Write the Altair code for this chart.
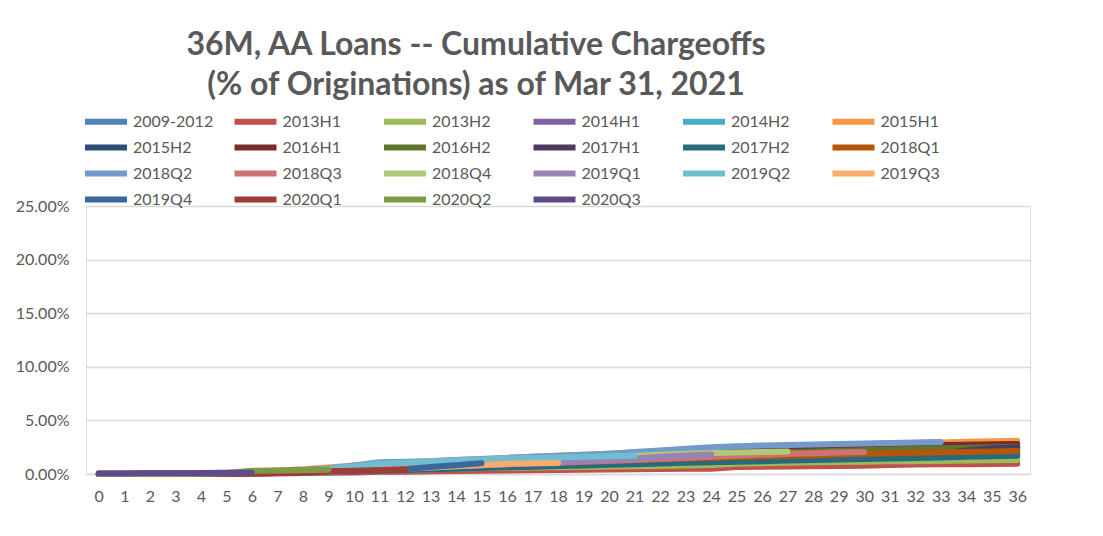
import altair as alt
import pandas as pd

title_lines = ["36M, AA Loans -- Cumulative Chargeoffs", "(% of Originations) as of Mar 31, 2021"]

series_names = ["2009-2012", "2013H1", "2013H2", "2014H1", "2014H2", "2015H1",
                "2015H2", "2016H1", "2016H2", "2017H1", "2017H2", "2018Q1",
                "2018Q2", "2018Q3", "2018Q4", "2019Q1", "2019Q2", "2019Q3",
                "2019Q4", "2020Q1", "2020Q2", "2020Q3"]

series_colors = ["#4F81BD", "#C0504D", "#9BBB59", "#8064A2", "#4BACC6", "#F79646",
                 "#2C4D75", "#772C2A", "#5F7530", "#4D3B62", "#276A7C", "#B65708",
                 "#729ACA", "#CD7371", "#AFC97A", "#9983B5", "#6FBDD1", "#F9AB6B",
                 "#3A679C", "#9C3D3A", "#7E9A45", "#5F4B8B"]

# cumulative chargeoffs, % of originations, by month on book (0..N)
v_2009_2012 = [0, 0, 0, 0, 0.03, 0.08, 0.15, 0.25, 0.35, 0.5, 0.75, 1.0, 1.05, 1.1, 1.15, 1.2, 1.25, 1.3, 1.35,
               1.4, 1.45, 1.5, 1.55, 1.6, 1.65, 1.7, 1.72, 1.75, 1.78, 1.8, 1.82, 1.84, 1.86, 1.88, 1.9, 1.92, 1.95]
v_2013H1 = [0, 0, 0, 0, 0, 0.02, 0.05, 0.08, 0.1, 0.12, 0.15, 0.2, 0.22, 0.25, 0.28, 0.3, 0.32, 0.35, 0.38,
            0.4, 0.42, 0.44, 0.46, 0.48, 0.5, 0.65, 0.68, 0.7, 0.72, 0.74, 0.78, 0.85, 0.88, 0.9, 0.92, 0.94, 0.96]
v_2013H2 = [0, 0, 0, 0, 0.02, 0.05, 0.1, 0.15, 0.2, 0.25, 0.3, 0.35, 0.4, 0.45, 0.5, 0.55, 0.58, 0.6, 0.62,
            0.65, 0.7, 0.72, 0.75, 0.8, 0.85, 0.95, 1.0, 1.05, 1.1, 1.12, 1.15, 1.18, 1.2, 1.22, 1.25, 1.28, 1.3]
v_2014H1 = [0, 0, 0, 0, 0.02, 0.06, 0.12, 0.2, 0.3, 0.42, 0.55, 0.65, 0.72, 0.8, 0.88, 0.95, 1.0, 1.05, 1.1,
            1.15, 1.2, 1.25, 1.3, 1.35, 1.4, 1.45, 1.5, 1.55, 1.6, 1.63, 1.66, 1.7, 1.73, 1.76, 1.8, 1.82, 1.85]
v_2014H2 = [0, 0, 0, 0, 0.03, 0.08, 0.15, 0.25, 0.38, 0.5, 0.65, 0.8, 0.9, 1.0, 1.08, 1.15, 1.22, 1.3, 1.36,
            1.42, 1.5, 1.56, 1.62, 1.68, 1.72, 1.76, 1.8, 1.84, 1.88, 1.9, 1.92, 1.95, 1.98, 2.0, 2.02, 2.05, 2.08]
v_2015H1 = [0, 0, 0, 0, 0.03, 0.1, 0.2, 0.32, 0.45, 0.6, 0.8, 1.0, 1.1, 1.2, 1.3, 1.4, 1.5, 1.6, 1.7,
            1.8, 1.9, 2.0, 2.1, 2.2, 2.3, 2.4, 2.5, 2.58, 2.65, 2.72, 2.78, 2.85, 2.9, 2.95, 3.0, 3.05, 3.1]
v_2015H2 = [0, 0, 0, 0, 0.02, 0.07, 0.14, 0.22, 0.32, 0.45, 0.6, 0.72, 0.82, 0.9, 1.0, 1.08, 1.15, 1.22, 1.3,
            1.38, 1.45, 1.52, 1.6, 1.66, 1.72, 1.8, 1.86, 1.92, 1.98, 2.03, 2.08, 2.12, 2.16, 2.2, 2.24, 2.28, 2.32]
v_2016H1 = [0, 0, 0, 0, 0.02, 0.07, 0.15, 0.25, 0.36, 0.5, 0.65, 0.8, 0.9, 1.0, 1.1, 1.2, 1.3, 1.4, 1.5,
            1.6, 1.7, 1.8, 1.9, 2.0, 2.1, 2.2, 2.28, 2.36, 2.44, 2.5, 2.56, 2.62, 2.66, 2.7, 2.74, 2.78, 2.8]
v_2016H2 = [0, 0, 0, 0, 0.02, 0.06, 0.12, 0.2, 0.3, 0.42, 0.55, 0.68, 0.78, 0.88, 0.98, 1.08, 1.16, 1.24, 1.32,
            1.4, 1.48, 1.56, 1.64, 1.72, 1.8, 1.88, 1.95, 2.02, 2.1, 2.16, 2.22, 2.28, 2.34, 2.4, 2.45, 2.5, 2.55]
v_2017H1 = [0, 0, 0, 0, 0.01, 0.04, 0.08, 0.14, 0.2, 0.28, 0.36, 0.44, 0.52, 0.6, 0.68, 0.75, 0.82, 0.88, 0.94,
            1.0, 1.06, 1.12, 1.18, 1.24, 1.3, 1.36, 1.42, 1.48, 1.54, 1.6, 1.66, 1.72, 1.8, 1.9, 2.2, 2.4, 2.5]
v_2017H2 = [0, 0, 0, 0, 0.01, 0.03, 0.06, 0.1, 0.15, 0.2, 0.26, 0.32, 0.38, 0.44, 0.5, 0.56, 0.62, 0.68, 0.74,
            0.8, 0.86, 0.92, 0.98, 1.04, 1.1, 1.15, 1.2, 1.25, 1.3, 1.35, 1.4, 1.45, 1.5, 1.55, 1.6, 1.65, 1.7]
v_2018Q1 = [0, 0, 0, 0, 0.01, 0.04, 0.08, 0.14, 0.22, 0.3, 0.4, 0.5, 0.6, 0.68, 0.76, 0.84, 0.92, 1.0, 1.1,
            1.2, 1.28, 1.34, 1.4, 1.46, 1.52, 1.58, 1.64, 1.7, 1.76, 1.82, 1.88, 1.94, 1.98, 2.02, 2.06, 2.1, 2.15]
v_2018Q2 = [0, 0, 0, 0, 0.02, 0.06, 0.12, 0.22, 0.35, 0.5, 0.8, 1.1, 1.15, 1.2, 1.3, 1.4, 1.5, 1.6, 1.7,
            1.8, 1.9, 2.05, 2.2, 2.35, 2.5, 2.6, 2.65, 2.7, 2.75, 2.8, 2.85, 2.9, 2.95, 2.98]
v_2018Q3 = [0, 0, 0, 0, 0.01, 0.04, 0.08, 0.15, 0.22, 0.3, 0.4, 0.5, 0.58, 0.66, 0.74, 0.82, 0.9, 0.98, 1.06,
            1.14, 1.22, 1.3, 1.4, 1.5, 1.6, 1.7, 1.8, 1.88, 1.94, 2.0, 2.05]
v_2018Q4 = [0, 0, 0, 0, 0.02, 0.06, 0.12, 0.2, 0.3, 0.42, 0.55, 0.68, 0.8, 0.9, 1.0, 1.1, 1.2, 1.3, 1.4,
            1.5, 1.6, 1.7, 1.8, 1.88, 1.95, 2.0, 2.05, 2.1]
v_2019Q1 = [0, 0, 0, 0, 0.01, 0.04, 0.08, 0.14, 0.2, 0.28, 0.36, 0.45, 0.54, 0.63, 0.72, 0.82, 0.92, 1.02, 1.12,
            1.22, 1.32, 1.45, 1.6, 1.72, 1.82]
v_2019Q2 = [0, 0, 0, 0, 0.02, 0.05, 0.1, 0.2, 0.32, 0.48, 0.7, 0.95, 1.05, 1.15, 1.25, 1.35, 1.45, 1.5, 1.55,
            1.6, 1.65, 1.7]
v_2019Q3 = [0, 0, 0, 0, 0.01, 0.03, 0.06, 0.1, 0.15, 0.22, 0.3, 0.4, 0.5, 0.6, 0.72, 0.85, 0.96, 1.0, 1.03]
v_2019Q4 = [0, 0, 0, 0, 0.01, 0.03, 0.06, 0.1, 0.15, 0.2, 0.28, 0.36, 0.45, 0.65, 0.82, 1.0]
v_2020Q1 = [0, 0, 0, 0, 0, 0.01, 0.03, 0.06, 0.1, 0.25, 0.3, 0.35, 0.42]
v_2020Q2 = [0, 0, 0, 0, 0.02, 0.1, 0.3, 0.33, 0.36, 0.4]
v_2020Q3 = [0.08, 0.08, 0.09, 0.09, 0.1, 0.11, 0.12]

all_values = [v_2009_2012, v_2013H1, v_2013H2, v_2014H1, v_2014H2, v_2015H1,
              v_2015H2, v_2016H1, v_2016H2, v_2017H1, v_2017H2, v_2018Q1,
              v_2018Q2, v_2018Q3, v_2018Q4, v_2019Q1, v_2019Q2, v_2019Q3,
              v_2019Q4, v_2020Q1, v_2020Q2, v_2020Q3]

month_labels = [str(m) for m in range(37)]
y_ticks = [0, 0.05, 0.10, 0.15, 0.20, 0.25]

rows = []
for name, vals in zip(series_names, all_values):
    for m, v in enumerate(vals):
        rows.append({"month": month_labels[m], "series": name, "rate": v / 100})
df = pd.DataFrame(rows)

FONT = "Lato"
GREY = "#595959"

chart = alt.Chart(df).mark_line(strokeWidth=6, strokeCap="round", strokeJoin="round").encode(
    x=alt.X("month:O", sort=month_labels, scale=alt.Scale(padding=0.5),
            axis=alt.Axis(title=None, labelAngle=0, ticks=False, grid=False, domainColor="#D9D9D9",
                          domainWidth=1.5, labelFontSize=16, labelColor=GREY, labelFont=FONT, labelPadding=14)),
    y=alt.Y("rate:Q", scale=alt.Scale(domain=[0, 0.25], nice=False),
            axis=alt.Axis(title=None, format=".2%", values=y_ticks, ticks=False, domain=False,
                          gridColor="#D9D9D9", gridWidth=1.5, labelFontSize=16, labelColor=GREY,
                          labelFont=FONT, labelPadding=17)),
    color=alt.Color("series:N", sort=series_names,
                    scale=alt.Scale(domain=series_names, range=series_colors),
                    legend=alt.Legend(orient="none", legendX=-4, legendY=-98, direction="horizontal",
                                      columns=6, title=None, symbolType="M-1,0H3", symbolStrokeWidth=6,
                                      symbolSize=441, labelFontSize=16, labelColor=GREY, labelFont=FONT,
                                      gridAlign="all", columnPadding=8.5, rowPadding=0, labelOffset=24,
                                      symbolOpacity=1)),
).properties(
    width=944, height=268,
    padding={"left": 86, "top": 206, "right": 73, "bottom": 62},
    autosize=alt.AutoSizeParams(type="none"),
    title=alt.TitleParams(text=title_lines, font=FONT, fontSize=32, fontWeight="bold", color=GREY,
                          anchor="middle", dx=-82, offset=6, lineHeight=40),
).configure_view(stroke=None).configure(background="white")

chart.save("out.html", embed_options={"renderer": "svg", "actions": False})
